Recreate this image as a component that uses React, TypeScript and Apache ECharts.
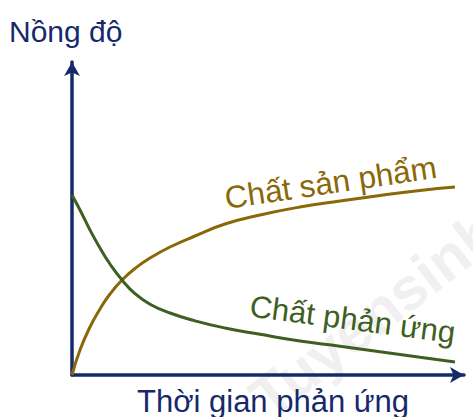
import React, { useEffect, useRef } from "react";
import * as echarts from "echarts";

// Data (time in % of axis, concentration in % of axis)
const timePoints = [0, 2.04, 4.59, 7.14, 9.69, 12.76, 16.07, 19.9, 25.0, 31.38, 39.03, 47.96, 58.16, 68.37, 78.57, 88.78, 97.7];
const productValues = [0, 7.99, 15.34, 21.09, 25.88, 30.35, 34.03, 37.38, 40.89, 44.41, 48.24, 51.12, 53.67, 55.59, 57.35, 58.95, 60.06];
const reactantValues = [57.51, 52.72, 46.33, 40.58, 35.46, 30.35, 26.0, 22.6, 19.8, 17.3, 15.02, 13.0, 10.86, 9.2, 7.4, 5.7, 4.15];
const yTitle = "Nồng độ";
const xTitle = "Thời gian phản ứng";
const productLabel = "Chất sản phẩm";
const reactantLabel = "Chất phản ứng";
const watermark = "Tuyensinh247.com";

const NAVY = "#16296b";
const GOLD = "#8a6808";
const GREEN = "#3e5f22";
const FONT = "'Liberation Sans', Arial, sans-serif";

export default function App() {
  const ref = useRef<HTMLDivElement>(null);
  useEffect(() => {
    if (!ref.current) return;
    const chart = echarts.init(ref.current, undefined, { renderer: "svg" });
    const axisCommon = {
      type: "value" as const,
      min: 0,
      max: 100,
      axisLine: {
        show: true,
        symbol: ["none", "arrow"],
        symbolSize: [12, 14],
        lineStyle: { color: NAVY, width: 3.5 },
      },
      axisTick: { show: false },
      axisLabel: { show: false },
      splitLine: { show: false },
    };
    const productData = timePoints.map((t, i) => [t, productValues[i]]);
    const reactantData = timePoints.map((t, i) => [t, reactantValues[i]]);
    chart.setOption({
      animation: false,
      backgroundColor: "#ffffff",
      grid: { left: 72, right: 9, top: 62, bottom: 42 },
      xAxis: { ...axisCommon },
      yAxis: { ...axisCommon },
      graphic: [
        {
          type: "text", x: 258, y: 405, rotation: 0.66, z: -10, silent: true,
          style: { text: watermark, fill: "#f0f0f0", font: `bold 60px ${FONT}`, align: "left", verticalAlign: "middle" },
        },
        {
          type: "text", x: 9, y: 31,
          style: { text: yTitle, fill: NAVY, font: `30px ${FONT}`, align: "left", verticalAlign: "middle" },
        },
        {
          type: "text", x: 137, y: 401,
          style: { text: xTitle, fill: NAVY, font: `31px ${FONT}`, align: "left", verticalAlign: "middle" },
        },
        {
          type: "text", x: 225, y: 198, rotation: 0.147,
          style: { text: productLabel, fill: GOLD, font: `31.5px ${FONT}`, align: "left", verticalAlign: "middle" },
        },
        {
          type: "text", x: 250, y: 306, rotation: -0.13,
          style: { text: reactantLabel, fill: GREEN, font: `31px ${FONT}`, align: "left", verticalAlign: "middle" },
        },
      ],
      series: [
        {
          type: "line", data: productData, smooth: 0.5, showSymbol: false,
          lineStyle: { color: GOLD, width: 3 }, z: 3,
        },
        {
          type: "line", data: reactantData, smooth: 0.5, showSymbol: false,
          lineStyle: { color: GREEN, width: 3 }, z: 3,
        },
      ],
    });
    return () => chart.dispose();
  }, []);
  return (
    <div
      ref={ref}
      style={{ position: "fixed", left: 0, top: 0, width: 473, height: 417, background: "#fff" }}
    />
  );
}
